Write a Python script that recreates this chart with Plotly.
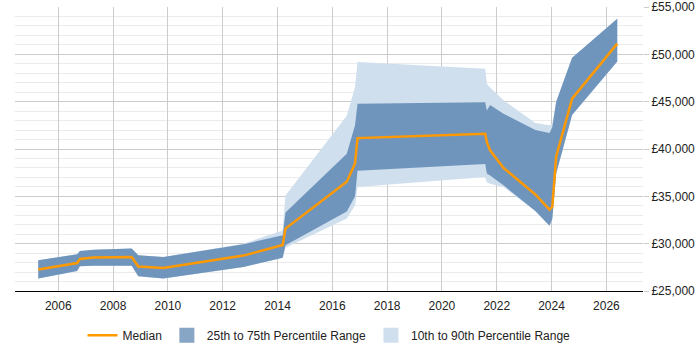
import plotly.graph_objects as go

dates = ["2005-04-09", "2006-09-09", "2006-10-16", "2007-04-13", "2008-09-05",
         "2008-12-02", "2009-10-31", "2012-10-04", "2014-03-11", "2014-04-17",
         "2016-07-12", "2016-10-30", "2016-12-02", "2021-07-31", "2021-08-22",
         "2021-10-04", "2022-04-01", "2023-05-30", "2023-12-05", "2024-01-11",
         "2024-03-03", "2024-10-01", "2026-05-26"]

p10 = [26310, 27110, 27610, 27680, 27680, 26550, 26310, 27530, 28500, 29580,
       32650, 34050, 35980, 37040, 36500, 36340, 35980, 33450, 31900, 32600,
       37400, 43600, 49250]
p25 = [26310, 27110, 27610, 27680, 27680, 26550, 26310, 27530, 28500, 29830,
       33400, 35000, 37700, 38420, 37400, 37200, 36160, 33450, 31900, 32600,
       37400, 43600, 49250]
median = [27270, 27960, 28380, 28530, 28580, 27580, 27420, 28740, 29870, 31590,
          36550, 38480, 41150, 41600, 40730, 39860, 38000, 35200, 33600, 33900,
          39220, 45320, 51130]
p75 = [28240, 28880, 29220, 29370, 29480, 28770, 28590, 29930, 30900, 33300,
       39500, 42500, 44790, 44930, 44080, 44650, 43730, 42000, 41700, 42300,
       45000, 49650, 53770]
p90 = [28240, 28880, 29220, 29370, 29480, 28770, 28590, 30000, 31400, 35100,
       43500, 46540, 49180, 48490, 46900, 46500, 45140, 42750, 42500, 42700,
       45000, 49650, 53770]

tick_years = ["2006", "2008", "2010", "2012", "2014", "2016", "2018", "2020",
              "2022", "2024", "2026"]

DARK = "#7095bd"
DARK_LEG = "#87a5c4"
LIGHT = "#cfdfee"
ORANGE = "#ff9900"

fig = go.Figure()
fig.add_trace(go.Scatter(x=dates, y=p10, mode="lines", line=dict(width=0, color=LIGHT),
                         showlegend=False, hoverinfo="skip"))
fig.add_trace(go.Scatter(x=dates, y=p90, mode="lines", line=dict(width=0, color=LIGHT),
                         fill="tonexty", fillcolor=LIGHT, showlegend=False))
fig.add_trace(go.Scatter(x=dates, y=p25, mode="lines", line=dict(width=0, color=DARK),
                         showlegend=False, hoverinfo="skip"))
fig.add_trace(go.Scatter(x=dates, y=p75, mode="lines", line=dict(width=0, color=DARK),
                         fill="tonexty", fillcolor=DARK, showlegend=False))
fig.add_trace(go.Scatter(x=dates, y=median, mode="lines", line=dict(width=2.5, color=ORANGE),
                         name="Median", legendrank=1))
# legend-only entries for the bands (square swatches)
fig.add_trace(go.Scatter(x=[None], y=[None], mode="markers",
                         marker=dict(symbol="square", size=15, color=DARK_LEG),
                         name="25th to 75th Percentile Range", legendrank=2))
fig.add_trace(go.Scatter(x=[None], y=[None], mode="markers",
                         marker=dict(symbol="square", size=15, color=LIGHT),
                         name="10th to 90th Percentile Range", legendrank=3))

fig.update_layout(
    width=700, height=350,
    margin=dict(l=15, r=57, t=7, b=59, autoexpand=False),
    paper_bgcolor="white", plot_bgcolor="white",
    font=dict(family="Liberation Sans, Arial, sans-serif", size=12, color="#222"),
    legend=dict(orientation="h", x=0.5, xanchor="center", xref="paper",
                y=-0.105, yanchor="top", font=dict(size=12), traceorder="normal",
                itemsizing="trace"),
    showlegend=True,
)
fig.update_xaxes(
    type="date",
    range=["2004-06-03", "2027-05-04"],
    tickvals=[y + "-01-01" for y in tick_years],
    ticktext=tick_years,
    tickangle=0,
    ticklabelstandoff=4,
    showgrid=True, gridcolor="#cccccc", gridwidth=1,
    showline=True, linecolor="#000000", linewidth=1,
    ticks="", zeroline=False, automargin=False,
)
fig.update_yaxes(
    side="right",
    range=[25000, 55000],
    dtick=5000, tick0=25000,
    tickprefix="£", tickformat=",d",
    showgrid=True, gridcolor="#cccccc", gridwidth=1,
    minor=dict(dtick=1000, showgrid=True, gridcolor="#ebebeb", gridwidth=1),
    ticks="outside", ticklen=5, tickcolor="#cccccc",
    showline=False, zeroline=False, automargin=False,
)

fig.write_html("out.html")
